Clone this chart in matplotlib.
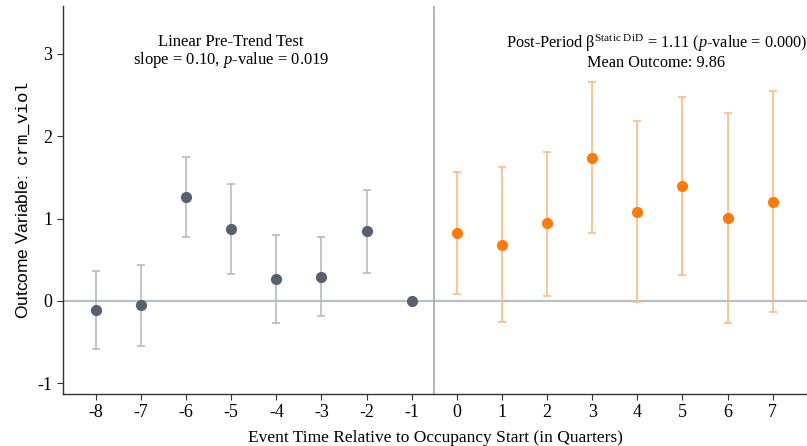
import numpy as np
import matplotlib.pyplot as plt

# event times and estimates
pre_t = [-8, -7, -6, -5, -4, -3, -2, -1]
pre_est = [-0.11, -0.05, 1.26, 0.87, 0.27, 0.29, 0.85, 0.0]
pre_lo = [-0.58, -0.55, 0.77, 0.33, -0.27, -0.18, 0.34, 0.0]
pre_hi = [0.36, 0.44, 1.75, 1.42, 0.80, 0.78, 1.35, 0.0]

post_t = [0, 1, 2, 3, 4, 5, 6, 7]
post_est = [0.82, 0.68, 0.94, 1.74, 1.08, 1.39, 1.01, 1.20]
post_lo = [0.08, -0.25, 0.06, 0.83, -0.01, 0.32, -0.27, -0.14]
post_hi = [1.56, 1.62, 1.81, 2.66, 2.18, 2.47, 2.28, 2.55]

yticks = [-1, 0, 1, 2, 3]

plt.rcParams["font.family"] = ["Liberation Serif", "DejaVu Serif"]
plt.rcParams["axes.unicode_minus"] = False
plt.rcParams["mathtext.fontset"] = "custom"
plt.rcParams["mathtext.rm"] = "Liberation Serif"
plt.rcParams["mathtext.it"] = "Liberation Serif:italic"
plt.rcParams["mathtext.tt"] = "Liberation Mono"

fig = plt.figure(figsize=(8.07, 4.46), dpi=100)
ax = fig.add_axes([0.078, 0.1166, 0.922, 0.87])

zero_col = "#b9bfc9"
ax.axhline(0, color=zero_col, lw=1.6, zorder=1)
ax.axvline(-0.5, color="#a9aeb6", lw=1.3, zorder=1)

def draw(t, est, lo, hi, dot, bar):
    est = np.array(est)
    err = [est - np.array(lo), np.array(hi) - est]
    ax.errorbar(t, est, yerr=err, fmt="none", ecolor=bar, elinewidth=1.2,
                capsize=3, capthick=1.2, zorder=2)
    ax.scatter(t, est, s=65, color=dot, zorder=3, linewidths=0)

draw(pre_t, pre_est, pre_lo, pre_hi, "#5a606e", "#b7bac2")
draw(post_t, post_est, post_lo, post_hi, "#ff7b0a", "#ffbb80")

ax.set_xlim(-8.73, 7.76)
ax.set_ylim(-1.13, 3.58)
ax.set_xticks(pre_t + post_t)
ax.set_yticks(yticks)
ax.tick_params(labelsize=13, color="#333333", length=4)

for s in ["top", "right"]:
    ax.spines[s].set_visible(False)
for s in ["left", "bottom"]:
    ax.spines[s].set_color("#333333")
    ax.spines[s].set_linewidth(1.0)

ax.set_xlabel("Event Time Relative to Occupancy Start (in Quarters)", fontsize=12.5, labelpad=6)
ax.set_ylabel("Outcome Variable:  $\\mathtt{crm\\_viol}$", fontsize=12.5,
              family=["Liberation Sans", "DejaVu Sans"], labelpad=4)

ax.text(-5.0, 3.02, "Linear Pre-Trend Test\nslope = 0.10, $p$-value = 0.019",
        ha="center", va="center", fontsize=12, linespacing=1.05)
ax.text(4.42, 3.02,
        "Post-Period β$^{\\mathrm{Static\\ DiD}}$ = 1.11 ($p$-value = 0.000)\nMean Outcome: 9.86",
        ha="center", va="center", fontsize=11.7, linespacing=1.05)

fig.savefig("out.png", dpi=100)
